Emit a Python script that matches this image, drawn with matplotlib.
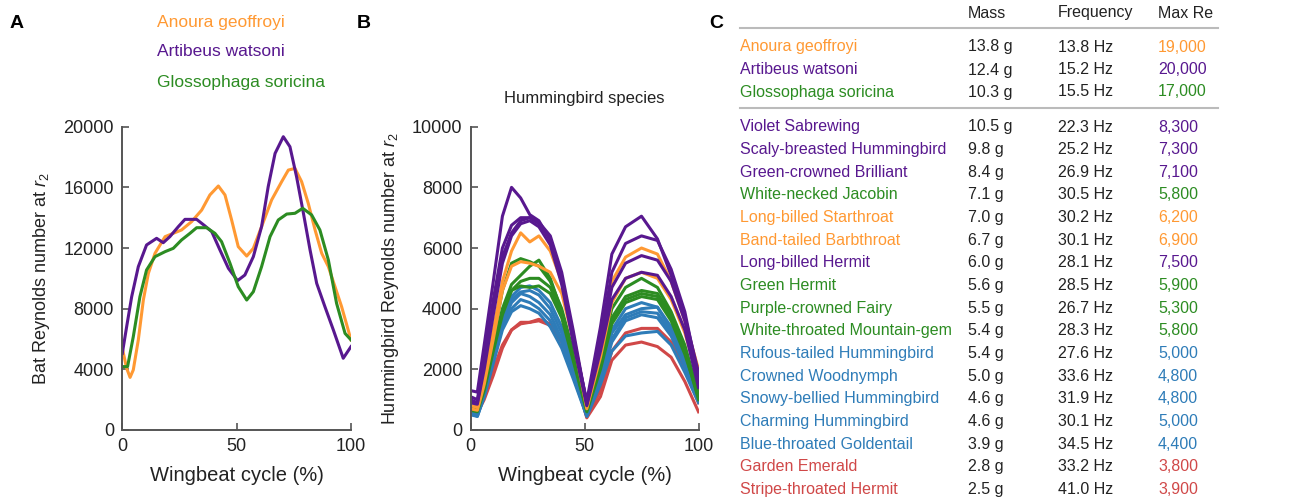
import numpy as np
import matplotlib
matplotlib.use("Agg")
import matplotlib.pyplot as plt

plt.rcParams['font.family'] = ['Liberation Sans', 'DejaVu Sans']
plt.rcParams['mathtext.fontset'] = 'custom'
plt.rcParams['mathtext.rm'] = 'Liberation Sans'
plt.rcParams['mathtext.it'] = 'Liberation Sans:italic'

ORANGE = '#FF9933'
PURPLE = '#58188F'
GREEN = '#2C8C22'
BLUE = '#2E7CB8'
RED = '#D04848'
GREY = '#555555'

# ---- panel A: bats ----
bat_names = ["Anoura geoffroyi", "Artibeus watsoni", "Glossophaga soricina"]
bat_colors = [ORANGE, PURPLE, GREEN]

anoura_x = [0, 1.9, 3.4, 4.8, 7.0, 9.2, 11.4, 14.3, 18.7, 22.3, 25.9, 30.3, 34.7, 38.3, 42.0, 44.9,
            47.8, 50.7, 54.4, 57.3, 60.9, 65.3, 69.7, 72.6, 75.5, 78.4, 81.3, 84.3, 87.2, 90.1, 93.0, 95.9, 100]
anoura_y = [5400, 4070, 3470, 3960, 5940, 8570, 10330, 11650, 12750, 12970, 13190, 13740, 14500, 15500, 16090, 15500,
            13850, 12090, 11470, 11980, 13410, 15170, 16380, 17140, 17250, 16380, 14950, 13190, 11650, 10770, 9450, 8130, 5940]

artibeus_x = [0, 1.9, 4.1, 7.0, 10.6, 15.0, 17.9, 20.8, 24.5, 27.4, 32.5, 36.2, 39.1, 42.7, 46.4, 50.4,
              53.6, 57.3, 60.9, 63.8, 66.8, 70.4, 73.3, 76.2, 79.2, 82.1, 85.0, 88.6, 92.3, 96.6, 100]
artibeus_y = [5050, 6810, 8790, 10770, 12200, 12640, 12350, 12750, 13410, 13890, 13890, 13450, 13080, 11870, 10660, 9850,
              10220, 11430, 13410, 16050, 18240, 19340, 18680, 16700, 14290, 11870, 9670, 8130, 6590, 4730, 5500]

glosso_x = [0, 2.3, 4.8, 7.7, 10.6, 14.3, 18.7, 22.3, 25.9, 29.6, 32.5, 36.9, 40.5, 43.4, 47.1, 50.7,
            54.4, 57.3, 60.9, 64.6, 68.2, 71.9, 75.5, 78.9, 82.8, 86.4, 90.1, 93.7, 97.4, 100]
glosso_y = [4180, 4180, 6150, 8790, 10550, 11430, 11760, 11980, 12530, 12970, 13340, 13340, 12970, 12420, 10990, 9450,
            8570, 9120, 10770, 12750, 13850, 14240, 14290, 14620, 14180, 13190, 11210, 8350, 6370, 5940]

# ---- panel B: hummingbirds ----
hb_x = [0, 3, 6, 10, 14, 18, 22, 26, 30, 35, 40, 45, 51, 57, 62, 68, 75, 82, 88, 94, 100]

violet_sabrewing = [1300, 1250, 2800, 4900, 7050, 8000, 7650, 7100, 6900, 6250, 4900, 3050, 950, 3400, 5800, 6700, 7050, 6300, 5100, 3750, 1900]
long_billed_hermit = [1100, 1000, 2400, 4300, 6000, 6750, 7000, 7000, 6800, 6300, 5000, 3100, 900, 3000, 5200, 6150, 6400, 6250, 5300, 3900, 1700]
scaly_breasted = [1000, 900, 2200, 4000, 5700, 6500, 6900, 7000, 6850, 6400, 5200, 3300, 850, 2800, 4700, 5500, 5750, 5600, 4900, 3600, 1600]
green_crowned = [900, 850, 2000, 3800, 5500, 6400, 6800, 6900, 6700, 6100, 4800, 2900, 800, 2600, 4300, 5000, 5200, 5100, 4400, 3300, 1400]
band_tailed = [800, 750, 1700, 3300, 4900, 5900, 6500, 6200, 6400, 5900, 4900, 3200, 800, 2800, 4900, 5700, 6000, 5800, 4900, 3600, 2000]
long_billed_starthroat = [700, 650, 1500, 3000, 4600, 5400, 5550, 5500, 5400, 5200, 4500, 3000, 700, 2400, 4200, 5000, 5200, 5000, 4300, 3200, 1700]
white_necked = [800, 750, 1600, 3000, 4600, 5500, 5650, 5550, 5400, 4900, 4000, 2600, 700, 2400, 4000, 4700, 5000, 4700, 3900, 2800, 1200]
green_hermit = [700, 650, 1400, 2700, 4000, 4800, 5100, 5400, 5600, 5000, 3900, 2500, 650, 2200, 3700, 4400, 4600, 4500, 3800, 2700, 1100]
mountain_gem = [750, 700, 1400, 2700, 3900, 4600, 4900, 5000, 5000, 4700, 3800, 2400, 650, 2100, 3600, 4300, 4500, 4400, 3700, 2600, 1000]
purple_fairy = [650, 600, 1300, 2600, 3800, 4600, 4750, 4700, 4750, 4500, 3700, 2300, 600, 2000, 3500, 4200, 4400, 4300, 3600, 2500, 1100]
rufous_tailed = [600, 550, 1300, 2500, 3700, 4400, 4700, 4750, 4600, 4200, 3400, 2100, 550, 1900, 3300, 4000, 4200, 4050, 3400, 2400, 1200]
charming = [550, 500, 1200, 2400, 3600, 4300, 4550, 4600, 4450, 4000, 3200, 2000, 500, 1800, 3200, 3800, 4000, 4050, 3300, 2300, 1100]
woodnymph = [600, 500, 1200, 2400, 3500, 4200, 4500, 4400, 4200, 3800, 3000, 1900, 500, 1700, 3000, 3700, 3900, 3850, 3200, 2200, 1000]
snowy_bellied = [500, 450, 1100, 2300, 3400, 4000, 4300, 4200, 4000, 3600, 2900, 1800, 450, 1600, 2900, 3600, 3800, 3700, 3100, 2100, 1000]
goldentail = [550, 450, 1100, 2200, 3300, 3900, 4100, 4000, 3850, 3400, 2700, 1700, 450, 1500, 2600, 3100, 3200, 3250, 2800, 1900, 900]
garden_emerald = [700, 600, 1100, 2000, 2800, 3300, 3500, 3550, 3600, 3450, 2900, 1900, 450, 1300, 2600, 3200, 3350, 3350, 2900, 2000, 900]
stripe_throated = [600, 550, 1000, 1800, 2700, 3300, 3550, 3550, 3650, 3500, 2950, 2000, 400, 1100, 2300, 2800, 2900, 2750, 2400, 1600, 600]

hb_curves = [
    (stripe_throated, RED), (garden_emerald, RED),
    (goldentail, BLUE), (snowy_bellied, BLUE), (woodnymph, BLUE), (charming, BLUE), (rufous_tailed, BLUE),
    (purple_fairy, GREEN), (mountain_gem, GREEN), (green_hermit, GREEN), (white_necked, GREEN),
    (long_billed_starthroat, ORANGE), (band_tailed, ORANGE),
    (green_crowned, PURPLE), (scaly_breasted, PURPLE), (long_billed_hermit, PURPLE), (violet_sabrewing, PURPLE),
]

# ---- panel C: table ----
table_headers = ["Mass", "Frequency", "Max Re"]
species = ["Anoura geoffroyi", "Artibeus watsoni", "Glossophaga soricina",
           "Violet Sabrewing", "Scaly-breasted Hummingbird", "Green-crowned Brilliant",
           "White-necked Jacobin", "Long-billed Starthroat", "Band-tailed Barbthroat",
           "Long-billed Hermit", "Green Hermit", "Purple-crowned Fairy",
           "White-throated Mountain-gem", "Rufous-tailed Hummingbird", "Crowned Woodnymph",
           "Snowy-bellied Hummingbird", "Charming Hummingbird", "Blue-throated Goldentail",
           "Garden Emerald", "Stripe-throated Hermit"]
mass = ["13.8 g", "12.4 g", "10.3 g", "10.5 g", "9.8 g", "8.4 g", "7.1 g", "7.0 g", "6.7 g", "6.0 g",
        "5.6 g", "5.5 g", "5.4 g", "5.4 g", "5.0 g", "4.6 g", "4.6 g", "3.9 g", "2.8 g", "2.5 g"]
freq = ["13.8 Hz", "15.2 Hz", "15.5 Hz", "22.3 Hz", "25.2 Hz", "26.9 Hz", "30.5 Hz", "30.2 Hz", "30.1 Hz",
        "28.1 Hz", "28.5 Hz", "26.7 Hz", "28.3 Hz", "27.6 Hz", "33.6 Hz", "31.9 Hz", "30.1 Hz", "34.5 Hz",
        "33.2 Hz", "41.0 Hz"]
max_re = ["19,000", "20,000", "17,000", "8,300", "7,300", "7,100", "5,800", "6,200", "6,900", "7,500",
          "5,900", "5,300", "5,800", "5,000", "4,800", "4,800", "5,000", "4,400", "3,800", "3,900"]
row_colors = [ORANGE, PURPLE, GREEN, PURPLE, PURPLE, PURPLE, GREEN, ORANGE, ORANGE, PURPLE,
              GREEN, GREEN, GREEN, BLUE, BLUE, BLUE, BLUE, BLUE, RED, RED]

W, H = 1297, 504
fig = plt.figure(figsize=(W / 100, H / 100), dpi=100)


def style_axes(ax):
    for s in ['top', 'right']:
        ax.spines[s].set_visible(False)
    for s in ['left', 'bottom']:
        ax.spines[s].set_color(GREY)
        ax.spines[s].set_linewidth(1.4)
    ax.tick_params(direction='in', length=5, width=1.2, color=GREY, labelsize=13,
                   labelcolor='#222222', pad=6)
    ax.set_xlim(0, 100)
    ax.set_xticks([0, 50, 100])
    ax.set_xlabel("Wingbeat cycle (%)", fontsize=14.5, color='#222222', labelpad=8)


axA = fig.add_axes([122.3 / W, 1 - 430 / H, 228.7 / W, 303.3 / H])
axA.plot(anoura_x, anoura_y, color=ORANGE, lw=2.2)
axA.plot(artibeus_x, artibeus_y, color=PURPLE, lw=2.2)
axA.plot(glosso_x, glosso_y, color=GREEN, lw=2.2)
style_axes(axA)
axA.set_ylim(0, 20000)
axA.set_yticks(np.arange(0, 20001, 4000))
axA.set_ylabel("Bat Reynolds number at $r_2$", fontsize=13, color='#222222', labelpad=8)
for i, (n, c) in enumerate(zip(bat_names, bat_colors)):
    fig.text(157 / W, 1 - (22 + 30 * i) / H, n, color=c, fontsize=12.5, va='center', ha='left')

axB = fig.add_axes([470.5 / W, 1 - 430 / H, 228 / W, 303.3 / H])
for vals, c in hb_curves:
    axB.plot(hb_x, vals, color=c, lw=2.2)
style_axes(axB)
axB.set_ylim(0, 10000)
axB.set_yticks(np.arange(0, 10001, 2000))
axB.set_ylabel("Hummingbird Reynolds number at $r_2$", fontsize=13, color='#222222', labelpad=8)
fig.text(584 / W, 1 - 99 / H, "Hummingbird species", fontsize=12, ha='center', va='center', color='#222222')

fig.text(10 / W, 1 - 24 / H, "A", fontsize=14, fontweight='bold', va='center')
fig.text(357 / W, 1 - 24 / H, "B", fontsize=14, fontweight='bold', va='center')
fig.text(709 / W, 1 - 24 / H, "C", fontsize=14, fontweight='bold', va='center')

# table drawn in pixel coordinates
axC = fig.add_axes([0, 0, 1, 1])
axC.set_xlim(0, W)
axC.set_ylim(H, 0)
axC.axis('off')
col_x = [740, 968, 1058, 1158]
for hx, h in zip(col_x[1:], table_headers):
    axC.text(hx, 13, h, fontsize=11.5, va='center', ha='left', color='#222222')
axC.plot([740, 1218], [28, 28], color='#bbbbbb', lw=1.5)
axC.plot([740, 1218], [108, 108], color='#bbbbbb', lw=1.5)
row_y = [47, 70, 92] + [127 + 22.65 * k for k in range(17)]
for y, n, m, f, r, c in zip(row_y, species, mass, freq, max_re, row_colors):
    axC.text(col_x[0], y, n, fontsize=11.5, va='center', ha='left', color=c)
    axC.text(col_x[1], y, m, fontsize=11.5, va='center', ha='left', color='#222222')
    axC.text(col_x[2], y, f, fontsize=11.5, va='center', ha='left', color='#222222')
    axC.text(col_x[3], y, r, fontsize=11.5, va='center', ha='left', color=c)

fig.savefig("out.png", dpi=100)
